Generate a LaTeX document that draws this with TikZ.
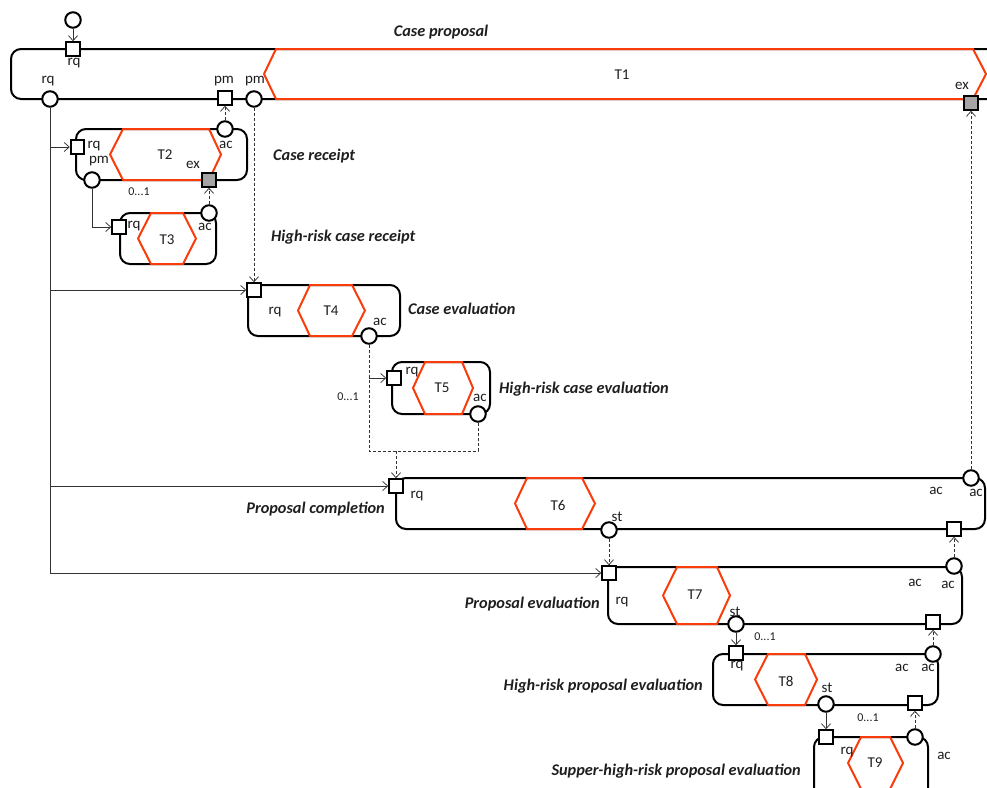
\documentclass[tikz,border=0pt]{standalone}
\usepackage{fontspec}
\setmainfont{Carlito}
\usetikzlibrary{arrows.meta}
\pgfdeclarelayer{bg}
\pgfsetlayers{bg,main}
\definecolor{hexred}{RGB}{250,60,10}
\definecolor{exgray}{RGB}{165,165,165}
\definecolor{txt}{RGB}{30,30,30}
\begin{document}
\begin{tikzpicture}[x=1pt,y=-1pt,
  tbox/.style={draw=black, line width=2pt, rounded corners=10pt},
  hexa/.style={draw=hexred, line width=2pt, line join=miter},
  circ/.style={circle, draw=black, line width=2pt, fill=white, minimum size=15.5pt, inner sep=0pt},
  sq/.style={rectangle, draw=black, line width=2pt, fill=white, minimum size=13.5pt, inner sep=0pt},
  exsq/.style={sq, fill=exgray},
  conn/.style={draw=black!80, line width=0.75pt, -{Straight Barb[length=5pt,width=9pt]}},
  plainc/.style={draw=black!80, line width=0.75pt},
  dconn/.style={conn, dash pattern=on 3pt off 2pt},
  dplain/.style={plainc, dash pattern=on 3pt off 2pt},
  lab/.style={text=txt, font=\fontsize{15}{17}\selectfont, inner sep=0pt},
  small/.style={text=txt, font=\fontsize{12}{14}\selectfont, inner sep=0pt},
  ttl/.style={text=txt, font=\fontsize{16.3}{19}\selectfont\bfseries\itshape, inner sep=0pt}
]
\useasboundingbox (0,0) rectangle (987,787);
\clip (0,0) rectangle (987,787);

% ---------- ports ----------
\node[circ] (start) at (73,20) {};
\node[sq] (t1rq) at (73,49) {};
\node[circ] (t1rqc) at (50,99) {};
\node[sq] (t1pm) at (225,98) {};
\node[circ] (t1pmc) at (254,99) {};
\node[exsq] (t1ex) at (971,103) {};

\node[sq] (t2rq) at (77.5,147) {};
\node[circ] (t2pm) at (92,180) {};
\node[circ] (t2ac) at (225,129) {};
\node[exsq] (t2ex) at (209,180) {};

\node[sq] (t3rq) at (119,227) {};
\node[circ] (t3ac) at (209,213) {};

\node[sq] (t4rq) at (254,290) {};
\node[circ] (t4ac) at (369,336) {};

\node[sq] (t5rq) at (394,378) {};
\node[circ] (t5ac) at (478,414) {};

\node[sq] (t6rq) at (396,486) {};
\node[circ] (t6st) at (609,530) {};
\node[circ] (t6ac) at (971,478) {};
\node[sq] (t6sq) at (954,529) {};

\node[sq] (t7rq) at (609,573) {};
\node[circ] (t7st) at (736,624) {};
\node[circ] (t7ac) at (954,566) {};
\node[sq] (t7sq) at (933,622) {};

\node[sq] (t8rq) at (736,653) {};
\node[circ] (t8st) at (826,704) {};
\node[circ] (t8ac) at (933,654) {};
\node[sq] (t8sq) at (915,703) {};

\node[sq] (t9rq) at (826,737) {};
\node[circ] (t9ac) at (915,737) {};

% ---------- junction coordinates ----------
\coordinate (j1) at (369,451);
\coordinate (j2) at (478,451);
\coordinate (j3) at (396,451);
\coordinate (b5) at (369,378);

\begin{pgfonlayer}{bg}
% ---------- boxes ----------
\draw[tbox] (11,49) rectangle (1010,99);
\draw[tbox] (76,129) rectangle (247,180);
\draw[tbox] (120,213) rectangle (216,264);
\draw[tbox] (248,285) rectangle (400,336);
\draw[tbox] (392,362) rectangle (490,414);
\draw[tbox] (396,478) rectangle (985,529);
\draw[tbox] (608,567) rectangle (962,624);
\draw[tbox] (713,654) rectangle (938,705);
\draw[tbox] (814,737) rectangle (928,810);

% ---------- hexagons ----------
\draw[hexa] (264,74) -- (276,49) -- (973,49) -- (986,74) -- (973,99) -- (276,99) -- cycle;
\draw[hexa] (110,154.5) -- (123,129) -- (209,129) -- (221,154.5) -- (209,180) -- (123,180) -- cycle;
\draw[hexa] (138,238.5) -- (151,213) -- (183,213) -- (196,238.5) -- (183,264) -- (151,264) -- cycle;
\draw[hexa] (298,310.5) -- (310,285) -- (352,285) -- (365,310.5) -- (352,336) -- (310,336) -- cycle;
\draw[hexa] (413,388) -- (425,362) -- (462,362) -- (473,388) -- (462,414) -- (425,414) -- cycle;
\draw[hexa] (515,503.5) -- (527,478) -- (582,478) -- (595,503.5) -- (582,529) -- (527,529) -- cycle;
\draw[hexa] (663,595.5) -- (677,567) -- (717,567) -- (730,595.5) -- (717,624) -- (677,624) -- cycle;
\draw[hexa] (755,679.5) -- (768,654) -- (805,654) -- (817,679.5) -- (805,705) -- (768,705) -- cycle;
\draw[hexa] (848,763) -- (861,737) -- (890,737) -- (903,763) -- (890,789) -- (861,789) -- cycle;

% solid connectors
\draw[conn] (start) -- (t1rq);
\draw[conn] (t1rqc) |- (t2rq);
\draw[conn] (t1rqc) |- (t4rq);
\draw[conn] (t1rqc) |- (t6rq);
\draw[conn] (t1rqc) |- (t7rq);
\draw[conn] (t2pm) |- (t3rq);
\draw[conn] (b5) -- (t5rq);
\draw[conn] (t7st) -- (t8rq);
\draw[conn] (t8st) -- (t9rq);

% dashed connectors
\draw[dconn] (t2ac) -- (t1pm);
\draw[dconn] (t3ac) -- (t2ex);
\draw[dconn] (t1pmc) -- (t4rq);
\draw[dplain] (t4ac) -- (j1) -- (j2) -- (t5ac);
\draw[dconn] (j3) -- (t6rq);
\draw[dconn] (t6ac) -- (t1ex);
\draw[dconn] (t6st) -- (t7rq);
\draw[dconn] (t7ac) -- (t6sq);
\draw[dconn] (t8ac) -- (t7sq);
\draw[dconn] (t9ac) -- (t8sq);
\end{pgfonlayer}

% ---------- labels ----------
\node[ttl] (n1) at (441,32) {Case proposal};
\node[lab] (l1) at (622,75) {T1};
\node[lab] (l1a) at (74,63) {rq};
\node[lab] (l1b) at (48,81) {rq};
\node[lab] (l1c) at (224,81) {pm};
\node[lab] (l1d) at (255,81) {pm};
\node[lab] (l1e) at (962,86) {ex};

\node[lab] (l2) at (165,155) {T2};
\node[lab] (l2a) at (94,146) {rq};
\node[lab] (l2b) at (99,161) {pm};
\node[lab] (l2c) at (226,145) {ac};
\node[lab] (l2d) at (193,165) {ex};
\node[small] (l2e) at (139,192) {0...1};
\node[ttl,anchor=west] (n2) at (273,156) {Case receipt};

\node[lab] (l3) at (167,240) {T3};
\node[lab] (l3a) at (134,226) {rq};
\node[lab] (l3b) at (205,227) {ac};
\node[ttl,anchor=west] (n3) at (271,237) {High-risk case receipt};

\node[lab] (l4) at (331,311) {T4};
\node[lab] (l4a) at (275,312) {rq};
\node[lab] (l4b) at (380,322) {ac};
\node[ttl,anchor=west] (n4) at (408,309) {Case evaluation};

\node[lab] (l5) at (442,388) {T5};
\node[lab] (l5a) at (412,372) {rq};
\node[lab] (l5b) at (480,398) {ac};
\node[small] (l5c) at (348,397) {0...1};
\node[ttl,anchor=west] (n5) at (499,389) {High-risk case evaluation};

\node[lab] (l6) at (558,505) {T6};
\node[lab] (l6a) at (417,496) {rq};
\node[lab] (l6b) at (617,517) {st};
\node[lab] (l6c) at (936,491) {ac};
\node[lab] (l6d) at (976,493) {ac};
\node[ttl,anchor=east] (n6) at (385,509) {Proposal completion};

\node[lab] (l7) at (695,595) {T7};
\node[lab] (l7a) at (622,602) {rq};
\node[lab] (l7b) at (735,612) {st};
\node[lab] (l7c) at (915,583) {ac};
\node[lab] (l7d) at (948,585) {ac};
\node[small] (l7e) at (765,637) {0...1};
\node[ttl,anchor=east] (n7) at (600,604) {Proposal evaluation};

\node[lab] (l8) at (786,681) {T8};
\node[lab] (l8a) at (737,666) {rq};
\node[lab] (l8b) at (827,688) {st};
\node[lab] (l8c) at (902,668) {ac};
\node[lab] (l8d) at (928,668) {ac};
\node[small] (l8e) at (868,718) {0...1};
\node[ttl,anchor=east] (n8) at (703,686) {High-risk proposal evaluation};

\node[lab] (l9) at (875,763) {T9};
\node[lab] (l9a) at (847,752) {rq};
\node[lab] (l9b) at (944,756) {ac};
\node[ttl,anchor=east] (n9) at (801,771) {Supper-high-risk proposal evaluation};
\end{tikzpicture}
\end{document}
